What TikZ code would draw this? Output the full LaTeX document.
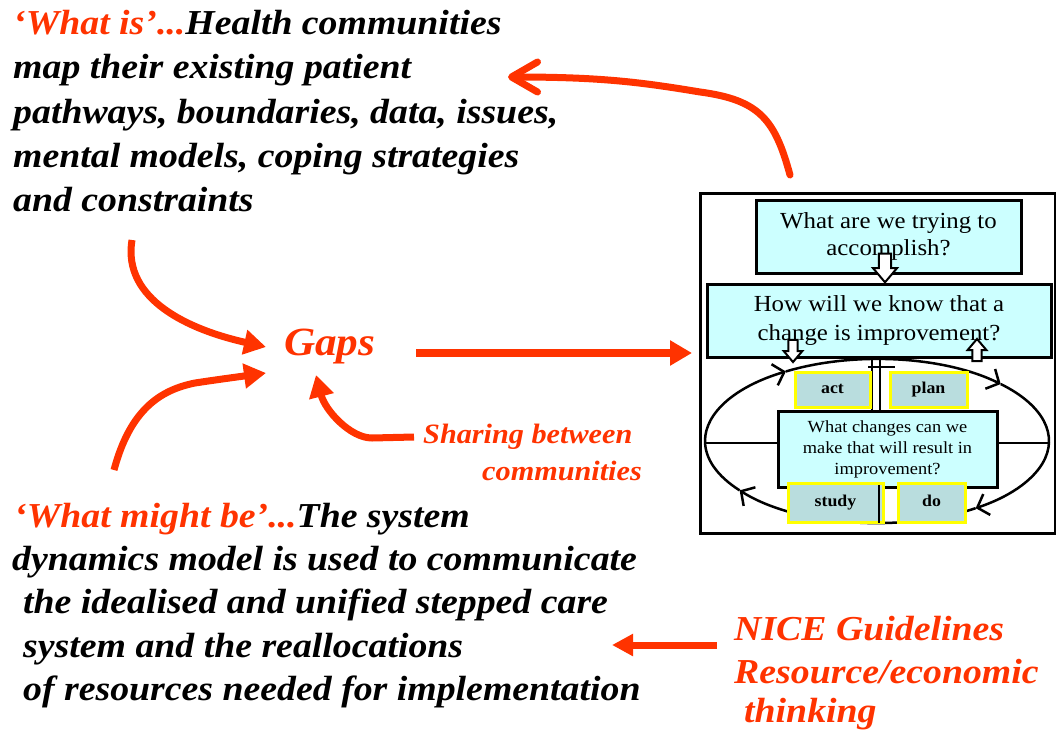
\documentclass[tikz,border=0pt]{standalone}
\usepackage{fontspec}
\setmainfont{Liberation Serif}[FakeStretch=1.08]
\usetikzlibrary{arrows.meta, shapes}

\definecolor{redorange}{HTML}{FF3300}
\definecolor{qcyan}{HTML}{CCFFFF}
\definecolor{stepcyan}{HTML}{B9DDDE}
\definecolor{stepyellow}{HTML}{FFFF00}

\tikzset{
  bigtext/.style={font=\fontsize{35}{44}\selectfont\bfseries\itshape, anchor=base west, inner sep=0},
  redtext/.style={bigtext, text=redorange},
  redline/.style={draw=redorange, line width=7pt},
  redarrow/.style={redline, -{Triangle[length=22pt,width=24pt]}},
  qbox/.style={draw, line width=3pt, fill=qcyan, align=center, inner sep=0},
  stepbox/.style={draw=stepyellow, line width=3pt, fill=stepcyan, inner sep=0,
    text height=11pt, text depth=3pt, font=\fontsize{16.5}{18}\selectfont\bfseries},
  cycarrow/.style={line width=2.5pt, -{Straight Barb[length=10pt,width=22pt]}},
  blockdown/.pic={
    \draw[line width=2pt, fill=white] (-5.5,-13) -- (5.5,-13) -- (5.5,0) -- (11,0)
      -- (0,13) -- (-11,0) -- (-5.5,0) -- cycle;
  }
}

\begin{document}
\begin{tikzpicture}[x=1pt, y=-1pt]
  \useasboundingbox (0,0) rectangle (1056,733);

  % model for improvement panel
  \node[draw, line width=3pt, minimum width=355, minimum height=340] (pdsa) at (877.5,363) {};
  \coordinate (cyc) at (877,441);
  \draw[line width=2.5pt] (705,443) -- (1049,443);
  \foreach \a/\b in {180/238, 238/316, 316/415, 415/503}
    \draw[cycarrow] (cyc) ++(\a:172 and 82) arc[start angle=\a, end angle=\b, x radius=172, y radius=82];
  \draw[line width=2.5pt] (cyc) ++(503:172 and 82) arc[start angle=503, end angle=540, x radius=172, y radius=82];
  \draw[line width=2pt] (872,357) -- (872,412) (880,357) -- (880,412) (868,367) -- (895,367);

  \node[qbox, minimum width=265, minimum height=73, font=\fontsize{23}{27}\selectfont] (aim) at (888.5,236.5)
    {What are we trying to\\accomplish?};
  \node[qbox, minimum width=344, minimum height=73, font=\fontsize{23}{29}\selectfont] (measure) at (879,320.5)
    {How will we know that a\\change is improvement?};
  \node[qbox, minimum width=219, minimum height=76, font=\fontsize{17}{21}\selectfont] (change) at (887.5,449)
    {What changes can we\\make that will result in\\improvement?};

  \node[stepbox, minimum width=75, minimum height=35] (act) at (832.5,389.5) {act};
  \node[stepbox, minimum width=77, minimum height=35] (plan) at (928.5,389.5) {plan};
  \node[stepbox, minimum width=95, minimum height=39] (study) at (835.5,502.5) {study};
  \node[stepbox, minimum width=67, minimum height=39] (do) at (931.5,502.5) {do};
  \draw[line width=2.5pt] (879,485) -- (879,523);

  \pic[scale=1.1] at (885,268) {blockdown};
  \pic[scale=0.85] at (793,351) {blockdown};
  \pic[scale=0.85, rotate=180] at (977,350) {blockdown};

  % text blocks
  \node[bigtext] (what1) at (13,35) {\textcolor{redorange}{‘What is’...}Health communities};
  \node[bigtext] (what2) at (13,79) {map their existing patient};
  \node[bigtext] (what3) at (13,123) {pathways, boundaries, data, issues,};
  \node[bigtext] (what4) at (13,167) {mental models, coping strategies};
  \node[bigtext] (what5) at (13,211) {and constraints};

  \node[redtext, font=\fontsize{40}{50}\selectfont\bfseries\itshape] (gaps) at (284,355) {Gaps};
  \node[redtext, font=\fontsize{28}{33}\selectfont\bfseries\itshape] (share1) at (423,443) {Sharing between};
  \node[redtext, font=\fontsize{28}{33}\selectfont\bfseries\itshape] (share2) at (482,480) {communities};

  \node[bigtext] (might1) at (14,527) {\textcolor{redorange}{‘What might be’...}The system};
  \node[bigtext] (might2) at (12,570) {dynamics model is used to communicate};
  \node[bigtext] (might3) at (23,613) {the idealised and unified stepped care};
  \node[bigtext] (might4) at (23,657) {system and the reallocations};
  \node[bigtext] (might5) at (23,700) {of resources needed for implementation};

  \node[redtext] (nice1) at (734,640) {NICE Guidelines};
  \node[redtext] (nice2) at (734,683) {Resource/economic};
  \node[redtext] (nice3) at (744,722) {thinking};

  % connectors
  \coordinate (upstart) at (790,175);
  \coordinate (upend) at (508,77);
  \coordinate (fromwhat) at (132,240);
  \coordinate (intogapsA) at (266,347);
  \coordinate (frommight) at (114,470);
  \coordinate (intogapsB) at (266,373);
  \coordinate (fromshare) at (414,437);
  \coordinate (intogapsC) at (316,375);
  \coordinate (gapsout) at (416,353);
  \coordinate (pdsain) at (692,353);
  \coordinate (niceout) at (717,645);
  \coordinate (mightin) at (612,645);

  \draw[redline, line cap=round, -{Straight Barb[length=26pt,width=30pt,round]}]
    (upstart) .. controls (775,120) and (760,100) .. (700,92) .. controls (640,82) and (600,77) .. (upend);
  \draw[redarrow] (fromwhat) .. controls (122,300) and (190,330) .. (intogapsA);
  \draw[redarrow] (frommight) .. controls (130,410) and (160,390) .. (195,383) .. controls (215,380) .. (intogapsB);
  \draw[redarrow] (fromshare) -- (372,438) .. controls (350,438) and (325,410) .. (intogapsC);
  \draw[redarrow, line width=8pt] (gapsout) -- (pdsain);
  \draw[redarrow, -{Triangle[length=21pt,width=21pt]}] (niceout) -- (mightin);
\end{tikzpicture}
\end{document}
